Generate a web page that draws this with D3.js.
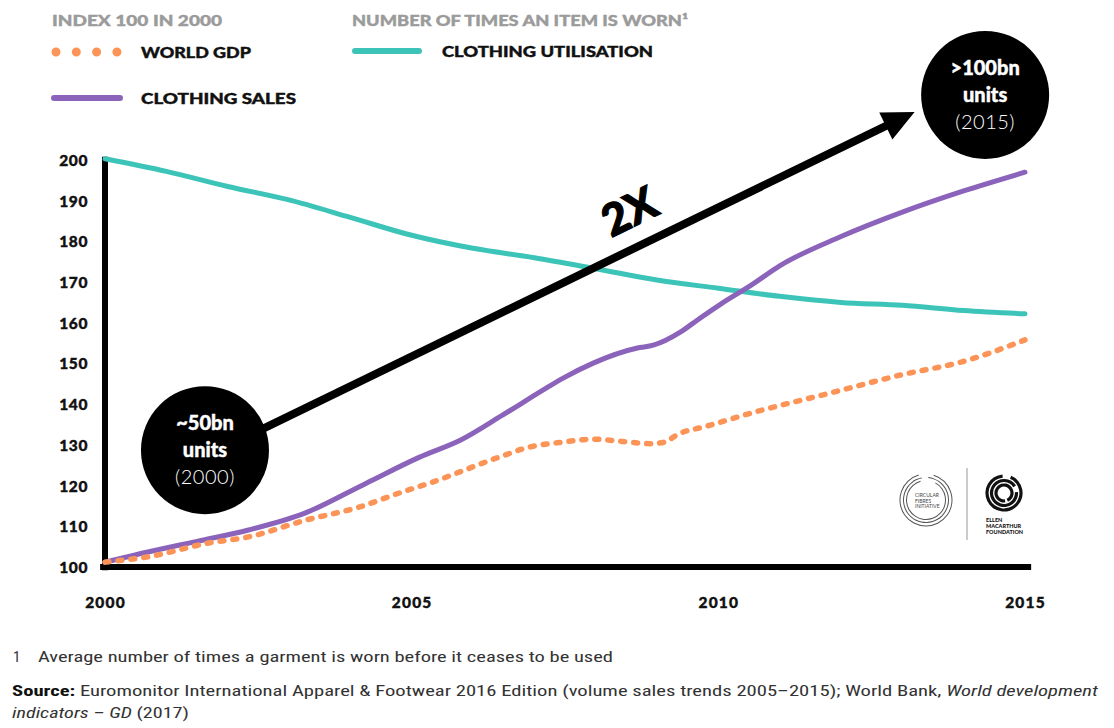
<!DOCTYPE html>
<html><head><meta charset="utf-8">
<script src="https://cdn.jsdelivr.net/npm/d3@7"></script>
<style>body{margin:0;background:#fff}svg{display:block}</style>
</head><body>
<svg id="c" width="1114" height="728"></svg>
<script>
// ---- data ----
const utilYears  = [2000,2001,2002,2003,2004,2005,2006,2007,2008,2009,2010,2011,2012,2013,2014,2015];
const utilValues = [200.3,197.2,193.5,190.2,185.9,181.5,178.3,176.0,173.3,170.5,168.5,166.5,165.0,164.3,163.0,162.2];

const salesYears  = [2000,2000.7,2001.5,2002.34,2003.27,2004.26,2005.13,2005.8,2006.48,2007.2,2007.47,2007.96,2008.68,2008.94,2009.38,2009.66,2010.04,2010.53,2011,2012,2013,2014,2015];
const salesValues = [101.2,103.7,106.3,109.1,113.3,120.6,127.0,131.2,137.3,144.0,146.4,150.1,153.8,154.5,157.7,160.7,164.6,169.2,174.0,181.2,187.2,192.4,197.0];

const gdpYears  = [2000,2000.7,2001.69,2002.34,2003.27,2004.14,2004.8,2005.29,2006.39,2006.93,2007.47,2007.96,2008.4,2008.89,2009.1,2009.38,2009.76,2010.53,2011.84,2012.98,2013.97,2015];
const gdpValues = [101.2,102.5,105.9,107.4,111.5,114.7,118.2,120.6,126.8,129.5,130.7,131.4,130.9,130.3,130.6,132.9,134.4,137.8,142.8,147.2,150.4,155.8];

const yTicks = [100,110,120,130,140,150,160,170,180,190,200];
const xTicks = [2000,2005,2010,2015];

const colors = {gdp:"#fc9458", sales:"#8b63bb", util:"#3dc4b9"};
const bold = "Lato, 'Open Sans', sans-serif";

// ---- scales ----
const svg = d3.select("#c");
const x = d3.scaleLinear().domain([2000,2015]).range([105,1025]);
const y = d3.scaleLinear().domain([100,200]).range([567,160]);

// ---- axes ----
const yAxis = d3.axisLeft(y).tickValues(yTicks).tickSize(0).tickPadding(17);
const gy = svg.append("g").attr("transform",`translate(${x(2000)},0)`).call(yAxis);
gy.select(".domain").remove();
gy.selectAll("text").attr("font-family",bold).attr("font-weight",900).attr("font-size",15.5)
  .attr("letter-spacing",0.6).attr("fill","#111").attr("stroke","#111").attr("stroke-width",0.4).attr("dy","0.35em");

const xAxis = d3.axisBottom(x).tickValues(xTicks).tickFormat(d3.format("d")).tickSize(0).tickPadding(30);
const gx = svg.append("g").attr("transform",`translate(0,${y(100)})`).call(xAxis);
gx.select(".domain").remove();
gx.selectAll("text").attr("font-family",bold).attr("font-weight",900).attr("font-size",15.5)
  .attr("letter-spacing",1.2).attr("fill","#111").attr("stroke","#111").attr("stroke-width",0.4);

// axis lines
svg.append("line").attr("x1",x(2000)).attr("x2",x(2000)).attr("y1",y(200.8)).attr("y2",y(99.2))
  .attr("stroke","#000").attr("stroke-width",6);
svg.append("line").attr("x1",x(1999.92)).attr("x2",x(2015.1)).attr("y1",y(100)).attr("y2",y(100))
  .attr("stroke","#000").attr("stroke-width",6);

// ---- lines ----
const line = d3.line().x(d=>x(d[0])).y(d=>y(d[1])).curve(d3.curveMonotoneX);
const zip = (a,b)=>a.map((v,i)=>[v,b[i]]);

svg.append("path").datum(zip(utilYears,utilValues)).attr("d",line)
  .attr("fill","none").attr("stroke",colors.util).attr("stroke-width",5).attr("stroke-linecap","round");
svg.append("path").datum(zip(salesYears,salesValues)).attr("d",line)
  .attr("fill","none").attr("stroke",colors.sales).attr("stroke-width",5).attr("stroke-linecap","round");
svg.append("path").datum(zip(gdpYears,gdpValues)).attr("d",line)
  .attr("fill","none").attr("stroke",colors.gdp).attr("stroke-width",5.5).attr("stroke-linecap","round")
  .attr("stroke-dasharray","4,9");

// ---- legend ----
const leg = svg.append("g").attr("font-family",bold).attr("font-weight",900).attr("font-size",15);
const ltext=(xx,yy,fill,len,t)=>leg.append("text").attr("x",xx).attr("y",yy).attr("fill",fill)
  .attr("stroke",fill).attr("stroke-width",0.4).attr("textLength",len).attr("lengthAdjust","spacingAndGlyphs").text(t);
ltext(52,26,"#9b9b9b",170,"INDEX 100 IN 2000");
ltext(352,26,"#9b9b9b",336,"NUMBER OF TIMES AN ITEM IS WORN¹");
leg.append("line").attr("x1",56).attr("x2",117).attr("y1",52).attr("y2",52)
  .attr("stroke",colors.gdp).attr("stroke-width",9).attr("stroke-linecap","round").attr("stroke-dasharray","0,20.3");
ltext(141,58,"#111",110,"WORLD GDP");
leg.append("line").attr("x1",54).attr("x2",120).attr("y1",98).attr("y2",98)
  .attr("stroke",colors.sales).attr("stroke-width",6).attr("stroke-linecap","round");
ltext(141,104,"#111",155,"CLOTHING SALES");
leg.append("line").attr("x1",355).attr("x2",419).attr("y1",51).attr("y2",51)
  .attr("stroke",colors.util).attr("stroke-width",6).attr("stroke-linecap","round");
ltext(442,57,"#111",211,"CLOTHING UTILISATION");

// ---- arrow annotation ----
const p0=[x(2002.47),y(133.2)], tip=[x(2013.2),y(211.8)];
const ang=Math.atan2(tip[1]-p0[1],tip[0]-p0[0]);
const hl=32, hw=15;
const base=[tip[0]-hl*Math.cos(ang), tip[1]-hl*Math.sin(ang)];
svg.append("line").attr("x1",p0[0]).attr("y1",p0[1]).attr("x2",base[0]+6*Math.cos(ang)).attr("y2",base[1]+6*Math.sin(ang))
  .attr("stroke","#000").attr("stroke-width",8);
svg.append("path").attr("fill","#000").attr("d",
  `M${tip[0]},${tip[1]} L${base[0]-hw*Math.sin(ang)},${base[1]+hw*Math.cos(ang)} L${base[0]+hw*Math.sin(ang)},${base[1]-hw*Math.cos(ang)} Z`);
const t2=[x(2008.55),y(187.3)];
svg.append("text").attr("transform",`translate(${t2[0]},${t2[1]}) rotate(${ang*180/Math.PI})`)
  .attr("text-anchor","middle").attr("dy","0.35em").attr("font-family",bold).attr("font-weight",900)
  .attr("font-size",44).attr("fill","#000").attr("stroke","#000").attr("stroke-width",1.2).text("2X");

// ---- bubbles ----
function bubble(cx,cy,l1,l2,l3){
  const g=svg.append("g").attr("transform",`translate(${cx},${cy})`);
  g.append("circle").attr("r",64).attr("fill","#000");
  g.append("text").attr("y",-20).attr("text-anchor","middle").attr("font-family",bold).attr("font-weight",900)
    .attr("font-size",20).attr("fill","#fff").attr("stroke","#fff").attr("stroke-width",0.4).text(l1);
  g.append("text").attr("y",7).attr("text-anchor","middle").attr("font-family",bold).attr("font-weight",900)
    .attr("font-size",20).attr("fill","#fff").attr("stroke","#fff").attr("stroke-width",0.4).text(l2);
  g.append("text").attr("y",34).attr("text-anchor","middle").attr("font-family","Lato, sans-serif").attr("font-weight",300)
    .attr("font-size",20).attr("letter-spacing",0.5).attr("fill","#fff").text(l3);
}
bubble(x(2001.63),y(128.7),"~50bn","units","(2000)");
bubble(x(2014.35),y(216.0),">100bn","units","(2015)");

// ---- logos ----
const lg=svg.append("g");
const c1=lg.append("g").attr("transform","translate(926,500)");
[[26,0.3,6.0],[22.5,0.1,6.1],[19.5,0.5,6.0]].forEach(([r,a0,a1])=>{
  c1.append("path").attr("d",d3.arc()({innerRadius:r-0.5,outerRadius:r+0.5,startAngle:a0,endAngle:a1})).attr("fill","#555");
});
["CIRCULAR","FIBRES","INITIATIVE"].forEach((t,i)=>c1.append("text").attr("x",-11).attr("y",-3+i*5.5)
  .attr("font-family","Lato, sans-serif").attr("font-size",5).attr("fill","#444").text(t));
lg.append("line").attr("x1",967).attr("x2",967).attr("y1",468).attr("y2",540).attr("stroke","#bbb").attr("stroke-width",1.5);
const c2=lg.append("g").attr("transform","translate(1004,493)");
[[17,0.4,6.2],[12.5,1.5,7.3],[8,3,9]].forEach(([r,a0,a1])=>{
  c2.append("path").attr("d",d3.arc()({innerRadius:r-1.6,outerRadius:r+1.6,startAngle:a0,endAngle:a1})).attr("fill","#111");
});
["ELLEN","MACARTHUR","FOUNDATION"].forEach((t,i)=>lg.append("text").attr("x",986).attr("y",522+i*6)
  .attr("font-family",bold).attr("font-weight",900).attr("font-size",5.5).attr("fill","#111").text(t));

// ---- footnotes ----
const narrow="'Liberation Sans Narrow','Roboto Condensed','Open Sans',sans-serif";
svg.append("text").attr("x",13).attr("y",662).attr("font-family",narrow).attr("font-size",15).attr("fill","#333").text("1");
svg.append("text").attr("x",38).attr("y",662).attr("font-family",narrow).attr("font-size",15).attr("fill","#333")
  .attr("textLength",575).attr("lengthAdjust","spacingAndGlyphs")
  .text("Average number of times a garment is worn before it ceases to be used");
const s=svg.append("text").attr("x",12).attr("y",696).attr("font-family",narrow).attr("font-size",15).attr("fill","#333")
  .attr("textLength",1086).attr("lengthAdjust","spacingAndGlyphs");
s.append("tspan").attr("font-weight",700).attr("fill","#111").text("Source:");
s.append("tspan").text(" Euromonitor International Apparel & Footwear 2016 Edition (volume sales trends 2005–2015); World Bank, ");
s.append("tspan").attr("font-style","italic").text("World development");
const s2=svg.append("text").attr("x",12).attr("y",718).attr("font-family",narrow).attr("font-size",15).attr("fill","#333")
  .attr("textLength",177).attr("lengthAdjust","spacingAndGlyphs");
s2.append("tspan").attr("font-style","italic").text("indicators – GD");
s2.append("tspan").text(" (2017)");
</script>
</body></html>
